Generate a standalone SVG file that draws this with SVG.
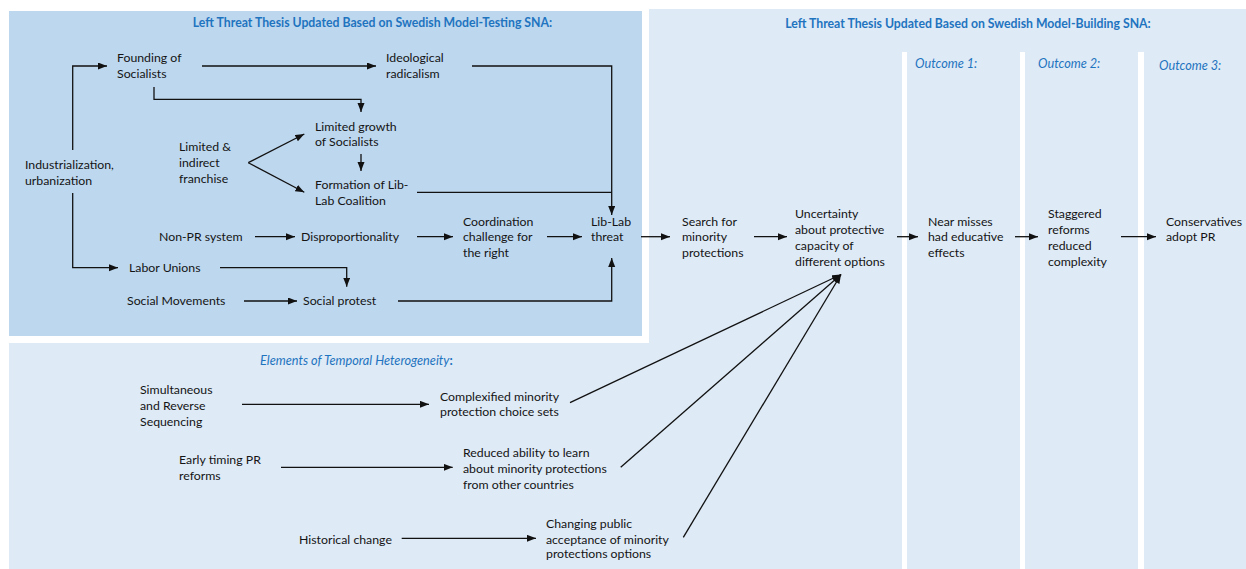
<svg xmlns="http://www.w3.org/2000/svg" width="1246" height="569" viewBox="0 0 1246 569">
<defs>
<marker id="ah" markerUnits="userSpaceOnUse" markerWidth="10" markerHeight="8" refX="9" refY="3.5" orient="auto">
<path d="M0,0 L9,3.5 L0,7 z" fill="#111"/>
</marker>
<style>
.t{font-family:Lato,"Liberation Sans",sans-serif;font-size:12.3px;fill:#141414}
.h{font-family:Lato,"Liberation Sans",sans-serif;font-size:12.25px;font-weight:bold;fill:#1f74c0}
.o{font-family:Lato,"Liberation Sans",sans-serif;font-size:12.7px;font-style:italic;fill:#1f74c0}
.c{fill:none;stroke:#111;stroke-width:1.3}
.a{marker-end:url(#ah)}
.dark{fill:#bdd7ee}
.light{fill:#deeaf6}
</style>
</defs>
<rect width="1246" height="569" fill="#fff"/>
<g id="panels">
<rect class="light" x="649" y="9" width="597" height="560"/>
<rect class="light" x="9" y="343" width="641" height="226"/>
<rect class="dark" x="9" y="11" width="633" height="325"/>
<rect x="902" y="52" width="5" height="517" fill="#fff"/>
<rect x="1020" y="52" width="5" height="517" fill="#fff"/>
<rect x="1138" y="52" width="6" height="517" fill="#fff"/>
</g>
<g id="titles">
<text class="h" x="372.5" y="27" text-anchor="middle">Left Threat Thesis Updated Based on Swedish Model-Testing SNA:</text>
<text class="h" x="968" y="28" text-anchor="middle">Left Threat Thesis Updated Based on Swedish Model-Building SNA:</text>
<text class="o" x="915" y="67.5">Outcome 1:</text>
<text class="o" x="1038" y="67.5">Outcome 2:</text>
<text class="o" x="1159" y="70">Outcome 3:</text>
<text class="o" x="260" y="364.5" font-size="13.1">Elements of Temporal Heterogeneity<tspan font-style="normal" font-weight="bold">:</tspan></text>
</g>
<g id="connectors">
<polyline class="c a" points="72.7,150 72.7,66 107,66"/>
<polyline class="c a" points="72.7,193 72.7,267.7 118,267.7"/>
<line class="c a" x1="202" y1="66" x2="376" y2="66"/>
<polyline class="c a" points="154,87 154,99.3 361,99.3 361,112"/>
<line class="c a" x1="248.3" y1="162.7" x2="304.3" y2="134"/>
<line class="c a" x1="248.3" y1="162.7" x2="304.3" y2="192.3"/>
<line class="c a" x1="361" y1="154" x2="361" y2="171"/>
<polyline class="c a" points="472,66 611.7,66 611.7,215"/>
<line class="c" x1="417" y1="192.3" x2="611.7" y2="192.3"/>
<line class="c a" x1="255" y1="236.7" x2="295" y2="236.7"/>
<line class="c a" x1="417" y1="236.7" x2="453" y2="236.7"/>
<line class="c a" x1="547" y1="236.7" x2="582" y2="236.7"/>
<polyline class="c a" points="220,267.7 346.7,267.7 346.7,286.7"/>
<line class="c a" x1="244" y1="301" x2="297" y2="301"/>
<polyline class="c a" points="398,301 611.7,301 611.7,258"/>
<line class="c a" x1="641" y1="236.7" x2="670" y2="236.7"/>
<line class="c a" x1="754" y1="236.7" x2="787" y2="236.7"/>
<line class="c a" x1="897" y1="236.7" x2="918" y2="236.7"/>
<line class="c a" x1="1015" y1="236.7" x2="1038" y2="236.7"/>
<line class="c a" x1="1121" y1="236.7" x2="1156" y2="236.7"/>
<line class="c a" x1="242" y1="404.3" x2="429" y2="404.3"/>
<line class="c a" x1="281" y1="467.3" x2="452.7" y2="467.3"/>
<line class="c a" x1="401.7" y1="538.3" x2="536" y2="538.3"/>
<line class="c a" x1="570" y1="402.7" x2="841" y2="274.5"/>
<line class="c a" x1="620.7" y1="467.3" x2="841" y2="274.5"/>
<line class="c a" x1="683.3" y1="537.3" x2="841" y2="274.5"/>
</g>
<g id="n-industrialization"><text class="t"><tspan x="25" y="168.5">Industrialization,</tspan><tspan x="25" y="184.5">urbanization</tspan></text></g>
<g id="n-founding"><text class="t"><tspan x="117" y="62.2">Founding of</tspan><tspan x="117" y="78.2">Socialists</tspan></text></g>
<g id="n-ideological"><text class="t"><tspan x="386" y="62.2">Ideological</tspan><tspan x="386" y="78.2">radicalism</tspan></text></g>
<g id="n-limited-franchise"><text class="t"><tspan x="179" y="151.2">Limited &amp;</tspan><tspan x="179" y="167.2">indirect</tspan><tspan x="179" y="183.2">franchise</tspan></text></g>
<g id="n-limited-growth"><text class="t"><tspan x="315" y="130.5">Limited growth</tspan><tspan x="315" y="146.2">of Socialists</tspan></text></g>
<g id="n-formation"><text class="t"><tspan x="315" y="188.8">Formation of Lib-</tspan><tspan x="315" y="205.2">Lab Coalition</tspan></text></g>
<g id="n-nonpr"><text class="t" x="159" y="240.8">Non-PR system</text></g>
<g id="n-disprop"><text class="t" x="301" y="240.8">Disproportionality</text></g>
<g id="n-coordination"><text class="t"><tspan x="463" y="225.5">Coordination</tspan><tspan x="463" y="241.2">challenge for</tspan><tspan x="463" y="256.8">the right</tspan></text></g>
<g id="n-liblab"><text class="t"><tspan x="591" y="225.5">Lib-Lab</tspan><tspan x="591" y="241.2">threat</tspan></text></g>
<g id="n-labor"><text class="t" x="129" y="272.2">Labor Unions</text></g>
<g id="n-socmov"><text class="t" x="127" y="305.2">Social Movements</text></g>
<g id="n-protest"><text class="t" x="303" y="305.2">Social protest</text></g>
<g id="n-search"><text class="t"><tspan x="682" y="225.5">Search for</tspan><tspan x="682" y="241.2">minority</tspan><tspan x="682" y="256.8">protections</tspan></text></g>
<g id="n-uncertainty"><text class="t"><tspan x="795" y="217.5">Uncertainty</tspan><tspan x="795" y="233.5">about protective</tspan><tspan x="795" y="249.5">capacity of</tspan><tspan x="795" y="265.5">different options</tspan></text></g>
<g id="n-near"><text class="t"><tspan x="928" y="225.5">Near misses</tspan><tspan x="928" y="241.2">had educative</tspan><tspan x="928" y="256.8">effects</tspan></text></g>
<g id="n-staggered"><text class="t"><tspan x="1048" y="217.5">Staggered</tspan><tspan x="1048" y="233.5">reforms</tspan><tspan x="1048" y="249.5">reduced</tspan><tspan x="1048" y="265.5">complexity</tspan></text></g>
<g id="n-conservatives"><text class="t"><tspan x="1166" y="225.5">Conservatives</tspan><tspan x="1166" y="241.2">adopt PR</tspan></text></g>
<g id="n-simultaneous"><text class="t"><tspan x="140" y="393.5">Simultaneous</tspan><tspan x="140" y="409.5">and Reverse</tspan><tspan x="140" y="425.5">Sequencing</tspan></text></g>
<g id="n-complexified"><text class="t"><tspan x="440" y="400.5">Complexified minority</tspan><tspan x="440" y="416.2">protection choice sets</tspan></text></g>
<g id="n-early"><text class="t"><tspan x="179" y="463.8">Early timing PR</tspan><tspan x="179" y="480.2">reforms</tspan></text></g>
<g id="n-reduced"><text class="t"><tspan x="463" y="456.5">Reduced ability to learn</tspan><tspan x="463" y="472.5">about minority protections</tspan><tspan x="463" y="488.5">from other countries</tspan></text></g>
<g id="n-historical"><text class="t" x="299" y="543.5">Historical change</text></g>
<g id="n-changing"><text class="t"><tspan x="546" y="527.5">Changing public</tspan><tspan x="546" y="543.5">acceptance of minority</tspan><tspan x="546" y="558.2">protections options</tspan></text></g>
</svg>
